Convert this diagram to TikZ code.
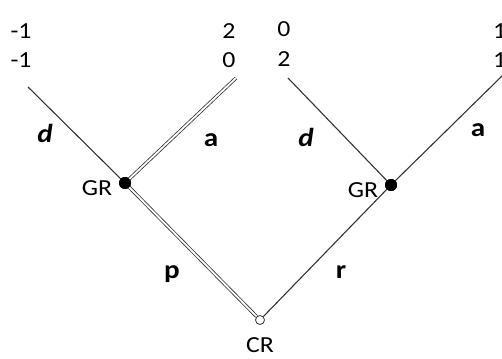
\documentclass[tikz,border=0pt]{standalone}
\usepackage{fontspec}
\setmainfont{Carlito}[FakeStretch=1.12]
\begin{document}
\begin{tikzpicture}[x=1pt,y=-1pt,
  edge/.style={draw=black!80, line width=1.1pt},
  dbl/.style={draw=black!80, line width=0.8pt, double=white, double distance=1.8pt},
  lbl/.style={font=\fontsize{23}{23}\selectfont, inner sep=0pt},
  blbl/.style={font=\fontsize{26}{26}\selectfont\bfseries, inner sep=0pt},
  solid dot/.style={circle, fill=black, inner sep=0pt, minimum size=12pt},
  open dot/.style={circle, draw=black!80, fill=white, line width=0.8pt, inner sep=0pt, minimum size=9pt}]
\useasboundingbox (0,0) rectangle (502,358);
\coordinate (ld) at (28,87);
\coordinate (la) at (236,78);
\coordinate (rd) at (288,78);
\coordinate (ra) at (502,76);
\node[solid dot] (gl) at (125,183) {};
\node[solid dot] (gr) at (391,185) {};
\node[open dot] (cr) at (260,320) {};
\draw[edge] (gl.center) -- (ld);
\draw[dbl] (gl.center) -- (la);
\draw[dbl] (cr) -- (gl.center);
\draw[edge] (cr) -- (gr.center);
\draw[edge] (gr.center) -- (rd);
\draw[edge] (gr.center) -- (ra);
\node[solid dot] at (gl) {};
\node[solid dot] at (gr) {};
\node[lbl] (p1) at (21,31) {-1};
\node[lbl] (p2) at (21,60) {-1};
\node[lbl] (p3) at (229,31) {2};
\node[lbl] (p4) at (229,60) {0};
\node[lbl] (p5) at (284,29) {0};
\node[lbl] (p6) at (284,59) {2};
\node[lbl, anchor=west] (p7) at (493,31) {1};
\node[lbl, anchor=west] (p8) at (493,60) {1};
\node[blbl] (ldl) at (45,133) {\itshape d};
\node[blbl] (lal) at (211,140) {a};
\node[blbl] (rdl) at (306,137) {\itshape d};
\node[blbl] (ral) at (478,130) {a};
\node[lbl] (glb) at (97,188) {GR};
\node[lbl] (grb) at (363,190) {GR};
\node[blbl] (pl) at (172,274) {p};
\node[blbl] (rl) at (341,272) {r};
\node[lbl] (crl) at (260,345) {CR};
\end{tikzpicture}
\end{document}
